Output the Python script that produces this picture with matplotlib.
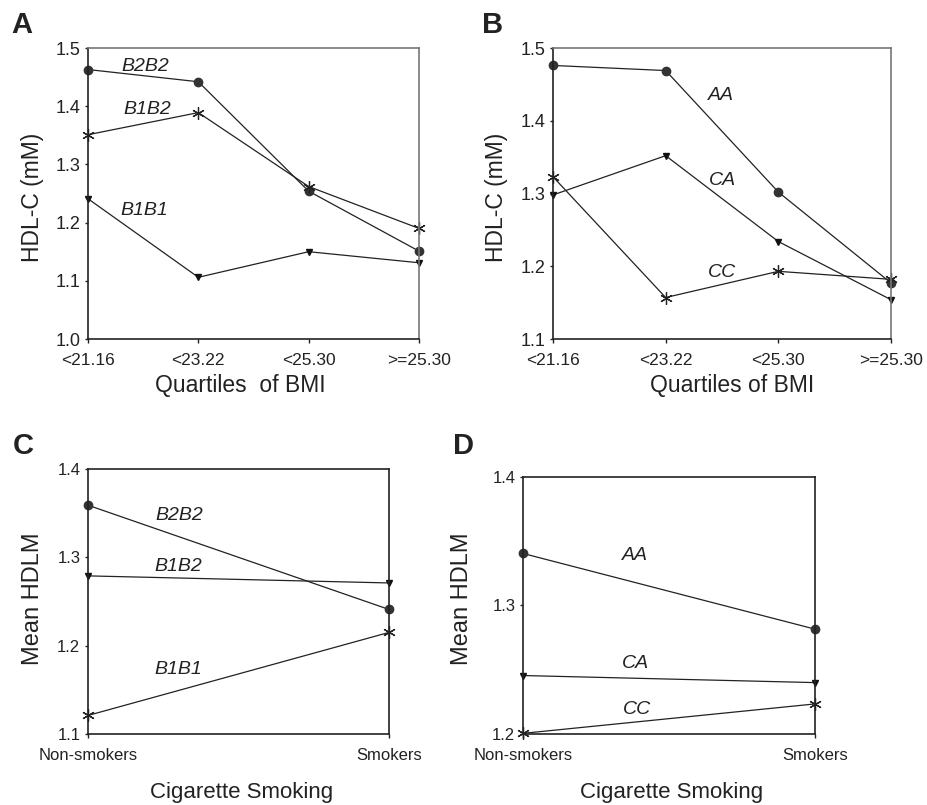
import matplotlib
matplotlib.use("Agg")
import matplotlib.pyplot as plt

plt.rcParams['font.family'] = ['Liberation Sans', 'DejaVu Sans']

# ---- data ----
bmi_labels = ["<21.16", "<23.22", "<25.30", ">=25.30"]
smoke_labels = ["Non-smokers", "Smokers"]

a_b2b2 = [1.463, 1.442, 1.254, 1.151]
a_b1b2 = [1.351, 1.389, 1.262, 1.190]
a_b1b1 = [1.241, 1.106, 1.150, 1.131]

b_aa = [1.476, 1.469, 1.302, 1.177]
b_ca = [1.298, 1.352, 1.234, 1.154]
b_cc = [1.323, 1.157, 1.193, 1.182]

c_b2b2 = [1.359, 1.241]
c_b1b2 = [1.279, 1.271]
c_b1b1 = [1.121, 1.215]

d_aa = [1.3405, 1.2816]
d_ca = [1.2455, 1.2400]
d_cc = [1.2005, 1.2234]

W, H = 928, 805
fig = plt.figure(figsize=(W / 100, H / 100), dpi=100)


def ax_at(l, t, r, b):
    return fig.add_axes([l / W, 1 - b / H, (r - l) / W, (b - t) / H])


LC = '#222222'
circ = dict(marker='o', markersize=6, markerfacecolor='#333333', markeredgecolor='#333333')
tri = dict(marker='v', markersize=4, markerfacecolor='#111111', markeredgecolor='#111111')
ast = dict(marker=(6, 2, 0), markersize=9, markeredgecolor='#222222', markeredgewidth=0.9)


def style(ax, tick_fs, gray_frame):
    for s in ['left', 'bottom']:
        ax.spines[s].set_color('#222222')
        ax.spines[s].set_linewidth(1.2)
    for s in ['top', 'right']:
        ax.spines[s].set_color('#777777' if gray_frame else '#222222')
        ax.spines[s].set_linewidth(1.2)
    ax.tick_params(direction='out', length=3, width=1, colors='#222222',
                   labelsize=tick_fs, labelcolor='#222222')
    ax.tick_params(axis='x', pad=7)
    ax.tick_params(axis='y', pad=3, length=2.5)


# ---- Panel A ----
axA = ax_at(88, 48, 419, 339)
x4 = list(range(len(bmi_labels)))
axA.plot(x4, a_b2b2, color=LC, lw=0.9, **circ)
axA.plot(x4, a_b1b2, color=LC, lw=0.9, **ast)
axA.plot(x4, a_b1b1, color=LC, lw=0.9, **tri)
axA.set_xlim(0, 3)
axA.set_ylim(1.0, 1.5)
axA.set_xticks(x4)
axA.set_xticklabels(bmi_labels)
axA.set_yticks([1.0, 1.1, 1.2, 1.3, 1.4, 1.5])
axA.set_yticklabels(["1.0", "1.1", "1.2", "1.3", "1.4", "1.5"])
style(axA, 12.5, True)
axA.tick_params(axis='y', labelsize=13)
for xx, yy, t in [(0.52, 1.469, "B2B2"), (0.535, 1.394, "B1B2"), (0.51, 1.221, "B1B1")]:
    axA.text(xx, yy, t, fontsize=14, style='italic', ha='center', va='center', color='#222222')
for ln in axA.lines:
    ln.set_clip_on(False)

# ---- Panel B ----
axB = ax_at(553, 48, 891, 339)
axB.plot(x4, b_aa, color=LC, lw=0.9, **circ)
axB.plot(x4, b_ca, color=LC, lw=0.9, **tri)
axB.plot(x4, b_cc, color=LC, lw=0.9, **ast)
axB.set_xlim(0, 3)
axB.set_ylim(1.1, 1.5)
axB.set_xticks(x4)
axB.set_xticklabels(bmi_labels)
axB.set_yticks([1.1, 1.2, 1.3, 1.4, 1.5])
axB.set_yticklabels(["1.1", "1.2", "1.3", "1.4", "1.5"])
style(axB, 12.5, True)
axB.tick_params(axis='y', labelsize=13)
for xx, yy, t in [(1.49, 1.4346, "AA"), (1.50, 1.3177, "CA"), (1.50, 1.192, "CC")]:
    axB.text(xx, yy, t, fontsize=14, style='italic', ha='center', va='center', color='#222222')
for ln in axB.lines:
    ln.set_clip_on(False)

# ---- Panel C ----
axC = ax_at(88, 469, 389, 734)
x2 = list(range(len(smoke_labels)))
axC.plot(x2, c_b2b2, color=LC, lw=0.9, **circ)
axC.plot(x2, c_b1b2, color=LC, lw=0.9, **tri)
axC.plot(x2, c_b1b1, color=LC, lw=0.9, **ast)
axC.set_xlim(0, 1)
axC.set_ylim(1.1, 1.4)
axC.set_xticks(x2)
axC.set_xticklabels(smoke_labels)
axC.set_yticks([1.1, 1.2, 1.3, 1.4])
axC.set_yticklabels(["1.1", "1.2", "1.3", "1.4"])
style(axC, 12, False)
for xx, yy, t in [(0.302, 1.347, "B2B2"), (0.299, 1.290, "B1B2"), (0.301, 1.173, "B1B1")]:
    axC.text(xx, yy, t, fontsize=14, style='italic', ha='center', va='center', color='#222222')
for ln in axC.lines:
    ln.set_clip_on(False)

# ---- Panel D ----
axD = ax_at(523, 477, 815, 734)
axD.plot(x2, d_aa, color=LC, lw=0.9, **circ)
axD.plot(x2, d_ca, color=LC, lw=0.9, **tri)
axD.plot(x2, d_cc, color=LC, lw=0.9, **ast)
axD.set_xlim(0, 1)
axD.set_ylim(1.2, 1.4)
axD.set_xticks(x2)
axD.set_xticklabels(smoke_labels)
axD.set_yticks([1.2, 1.3, 1.4])
axD.set_yticklabels(["1.2", "1.3", "1.4"])
style(axD, 12, False)
for xx, yy, t in [(0.382, 1.339, "AA"), (0.385, 1.255, "CA"), (0.389, 1.219, "CC")]:
    axD.text(xx, yy, t, fontsize=14, style='italic', ha='center', va='center', color='#222222')
for ln in axD.lines:
    ln.set_clip_on(False)

# ---- axis titles (figure coords in pixels) ----
def ftext(x, y, s, **kw):
    fig.text(x / W, 1 - y / H, s, ha='center', va='center', color='#222222', **kw)

ftext(240, 385, "Quartiles  of BMI", fontsize=16.5)
ftext(732, 385, "Quartiles of BMI", fontsize=16.5)
ftext(242, 792, "Cigarette Smoking", fontsize=16)
ftext(672, 792, "Cigarette Smoking", fontsize=16)
ftext(33, 197, "HDL-C (mM)", fontsize=16.5, rotation=90)
ftext(497, 197, "HDL-C (mM)", fontsize=16.5, rotation=90)
ftext(33, 599, "Mean HDLM", fontsize=17, rotation=90)
ftext(462, 599, "Mean HDLM", fontsize=17, rotation=90)

# ---- panel letters ----
for x, y, s in [(22, 25, "A"), (493, 25, "B"), (23, 446, "C"), (464, 446, "D")]:
    ftext(x, y, s, fontsize=21, fontweight='bold')

fig.savefig("out.png", dpi=100)
